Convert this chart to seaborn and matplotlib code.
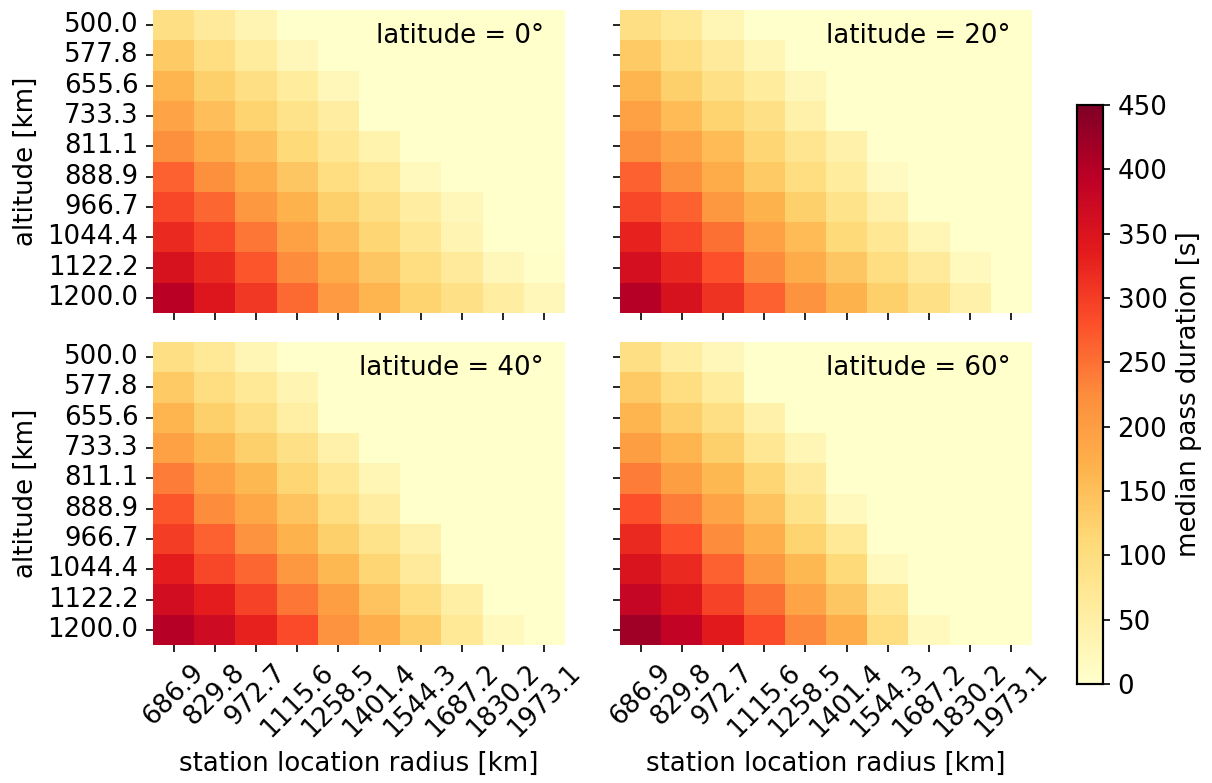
import numpy as np
import pandas as pd
import matplotlib
matplotlib.use("Agg")
import matplotlib.pyplot as plt
import seaborn as sns

altitudes = ["500.0", "577.8", "655.6", "733.3", "811.1",
             "888.9", "966.7", "1044.4", "1122.2", "1200.0"]
radii = ["686.9", "829.8", "972.7", "1115.6", "1258.5",
         "1401.4", "1544.3", "1687.2", "1830.2", "1973.1"]
latitudes = [0, 20, 40, 60]

# median pass duration [s]; rows = altitude, columns = station location radius
dur_lat0 = [
    [95, 65, 35, 0, 0, 0, 0, 0, 0, 0],
    [135, 100, 60, 25, 0, 0, 0, 0, 0, 0],
    [165, 125, 95, 60, 25, 0, 0, 0, 0, 0],
    [190, 150, 120, 85, 55, 0, 0, 0, 0, 0],
    [220, 180, 150, 110, 75, 40, 0, 0, 0, 0],
    [265, 220, 180, 140, 100, 70, 20, 0, 0, 0],
    [290, 260, 210, 170, 125, 95, 55, 25, 0, 0],
    [320, 290, 245, 195, 150, 115, 75, 35, 0, 0],
    [355, 320, 275, 225, 180, 140, 100, 65, 25, 5],
    [395, 345, 305, 255, 205, 165, 120, 90, 55, 25],
]
dur_lat20 = [
    [95, 70, 30, 0, 0, 0, 0, 0, 0, 0],
    [135, 100, 65, 30, 0, 0, 0, 0, 0, 0],
    [165, 125, 90, 60, 25, 0, 0, 0, 0, 0],
    [195, 155, 120, 90, 45, 0, 0, 0, 0, 0],
    [220, 190, 155, 115, 80, 45, 0, 0, 0, 0],
    [265, 220, 180, 135, 100, 60, 15, 0, 0, 0],
    [290, 265, 210, 170, 125, 85, 45, 0, 0, 0],
    [330, 290, 250, 195, 155, 110, 75, 30, 0, 0],
    [360, 325, 280, 225, 180, 140, 100, 65, 20, 0],
    [400, 355, 310, 265, 215, 170, 125, 90, 45, 0],
]
dur_lat40 = [
    [95, 70, 30, 0, 0, 0, 0, 0, 0, 0],
    [135, 100, 70, 35, 0, 0, 0, 0, 0, 0],
    [165, 125, 95, 50, 0, 0, 0, 0, 0, 0],
    [195, 160, 125, 90, 45, 0, 0, 0, 0, 0],
    [240, 195, 160, 115, 75, 30, 0, 0, 0, 0],
    [275, 225, 185, 145, 100, 55, 0, 0, 0, 0],
    [300, 265, 215, 170, 125, 85, 45, 0, 0, 0],
    [335, 290, 260, 210, 160, 115, 65, 0, 0, 0],
    [365, 335, 295, 245, 200, 145, 100, 50, 0, 0],
    [400, 370, 330, 285, 215, 175, 130, 70, 20, 0],
]
dur_lat60 = [
    [95, 55, 25, 0, 0, 0, 0, 0, 0, 0],
    [135, 100, 60, 0, 0, 0, 0, 0, 0, 0],
    [165, 130, 95, 45, 0, 0, 0, 0, 0, 0],
    [200, 165, 125, 75, 30, 0, 0, 0, 0, 0],
    [240, 200, 160, 115, 65, 0, 0, 0, 0, 0],
    [280, 240, 190, 145, 85, 20, 0, 0, 0, 0],
    [320, 280, 225, 175, 120, 70, 0, 0, 0, 0],
    [350, 320, 265, 210, 160, 110, 20, 0, 0, 0],
    [380, 345, 295, 250, 190, 140, 75, 0, 0, 0],
    [420, 385, 340, 285, 230, 180, 100, 20, 0, 0],
]
durations = [dur_lat0, dur_lat20, dur_lat40, dur_lat60]

FS = 12.5
plt.rcParams["font.family"] = ["DejaVu Sans"]
plt.rcParams["font.size"] = FS

W, H = 1212, 783
fig = plt.figure(figsize=(W / 150, H / 150), dpi=150)

def box(l, t, r, b):
    return [l / W, 1 - b / H, (r - l) / W, (b - t) / H]

panel_boxes = [
    box(153, 10, 565, 313),
    box(620, 10, 1032, 313),
    box(153, 342, 565, 645),
    box(620, 342, 1032, 645),
]
cax = fig.add_axes(box(1077, 105, 1103, 684))

for i, (lat, dur, pb) in enumerate(zip(latitudes, durations, panel_boxes)):
    ax = fig.add_axes(pb)
    df = pd.DataFrame(np.array(dur, dtype=float), index=altitudes, columns=radii)
    sns.heatmap(df, ax=ax, cmap="YlOrRd", vmin=0, vmax=450,
                cbar=(i == 0), cbar_ax=cax if i == 0 else None,
                cbar_kws={"label": "median pass duration [s]"},
                xticklabels=True, yticklabels=True)
    ax.tick_params(axis="both", labelsize=FS)
    ax.text(0.948, 0.915, f"latitude = {lat}°", transform=ax.transAxes,
            ha="right", va="center", fontsize=FS)
    if i % 2 == 0:
        ax.set_yticklabels(altitudes, rotation=0)
        ax.set_ylabel("altitude [km]", fontsize=FS)
    else:
        ax.set_yticklabels([])
        ax.set_ylabel("")
    if i >= 2:
        ax.set_xticklabels(radii, rotation=45)
        ax.set_xlabel("station location radius [km]", fontsize=FS)
    else:
        ax.set_xticklabels([])
        ax.set_xlabel("")

cax.tick_params(labelsize=FS)
cax.yaxis.label.set_size(FS)
for sp in cax.spines.values():
    sp.set_visible(True)
    sp.set_color("black")
    sp.set_linewidth(1.0)
cax.set_yticks(np.arange(0, 451, 50))

fig.savefig("out.png", dpi=150)
